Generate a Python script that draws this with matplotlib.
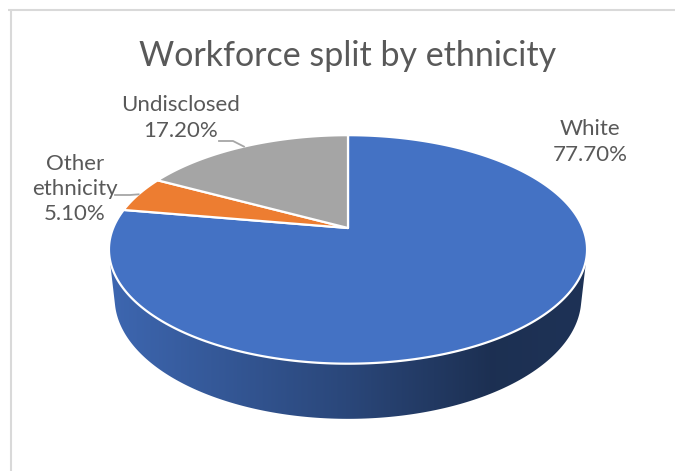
import numpy as np
import matplotlib
matplotlib.use("Agg")
import matplotlib.pyplot as plt
from matplotlib.patches import Polygon
from matplotlib.colors import to_rgb

# ---- data ----
categories = ["White", "Other\nethnicity", "Undisclosed"]
values = [77.70, 5.10, 17.20]
pct_labels = ["77.70%", "5.10%", "17.20%"]
colors = ["#4472C4", "#ED7D31", "#A5A5A5"]

# ---- projection (perspective view of a tilted disc) ----
W, H = 675, 471
cx, cy = 348.0, 228.0
phi = np.radians(28.0)
cph, sph = np.cos(phi), np.sin(phi)
D = 5.33 * cph
f = 1105.0
thick = 0.238


def proj(theta, r=1.0, z=0.0):
    X = r * np.cos(theta)
    Y = r * np.sin(theta)
    depth = D + Y * cph - z * sph
    px = cx + f * X / depth
    py = cy - f * (Y * sph + z * cph) / depth
    return px, py


fig = plt.figure(figsize=(W / 100, H / 100), dpi=100)
ax = fig.add_axes([0, 0, 1, 1])
ax.set_xlim(0, W)
ax.set_ylim(H, 0)
ax.axis("off")

# chart frame (top & left visible)
ax.plot([8, W], [10, 10], color="#d9d9d9", lw=1.5, solid_capstyle="butt")
ax.plot([11, 11], [10, H], color="#d9d9d9", lw=1.5, solid_capstyle="butt")

# slice angles: start at 12 o'clock going clockwise
total = sum(values)
starts, ends = [], []
a = np.pi / 2
for v in values:
    sweep = 2 * np.pi * v / total
    starts.append(a - sweep)
    ends.append(a)
    a -= sweep

# ---- side wall (front, visible part) ----
sil = np.arcsin(-1.0 / (D * cph))  # silhouette angle (negative)
vis_lo = np.pi - sil
vis_hi = 2 * np.pi + sil

def shade(col, t):
    base = np.array(to_rgb(col))
    fac = np.interp(t, [0.0, 0.5, 0.8, 1.0], [0.90, 0.62, 0.42, 0.44])
    return base * fac

for s0, e0, col in zip(starts, ends, colors):
    for k in (-1, 0, 1):
        s = s0 + 2 * np.pi * k
        e = e0 + 2 * np.pi * k
        lo, hi = max(s, vis_lo), min(e, vis_hi)
        if hi <= lo:
            continue
        th = np.linspace(lo, hi, 200)
        tx, ty = proj(th)
        bx, by = proj(th[::-1], z=-thick)
        pts = np.column_stack([np.r_[tx, bx], np.r_[ty, by]])
        poly = Polygon(pts, closed=True, facecolor="none", edgecolor="none")
        ax.add_patch(poly)
        x0, x1 = pts[:, 0].min(), pts[:, 0].max()
        y0, y1 = pts[:, 1].min(), pts[:, 1].max()
        left_all, right_all = proj(np.pi + 0.2)[0], proj(-0.2)[0]
        xs = np.linspace(x0, x1, 300)
        tt = (xs - left_all) / (right_all - left_all)
        img = np.array([shade(col, t) for t in tt])[None, :, :]
        im = ax.imshow(img, extent=[x0, x1, y1, y0], aspect="auto",
                       interpolation="bilinear", zorder=2)
        im.set_clip_path(poly)

# ---- top face ----
for s, e, col in zip(starts, ends, colors):
    th = np.linspace(s, e, 300)
    px, py = proj(th)
    pts = np.column_stack([np.r_[cx, px], np.r_[cy, py]])
    ax.add_patch(Polygon(pts, closed=True, facecolor=col, edgecolor="white",
                         lw=1.6, joinstyle="round", zorder=3))

# ---- title ----
font = "Lato"
txt_col = "#595959"
ax.text(348, 56, "Workforce split by ethnicity", ha="center", va="center",
        fontsize=24.5, color=txt_col, family=font)

# ---- data labels ----
label_pos = [(590, 142), (75, 189), (181, 118)]
for i, (cat, pct) in enumerate(zip(categories, pct_labels)):
    lx, ly = label_pos[i]
    ax.text(lx, ly, f"{cat}\n{pct}", ha="center", va="center",
            fontsize=16, color=txt_col, family=font, linespacing=1.32)

# leader lines for the small slices
leaders = {1: (115, 195, 130), 2: (219, 141, 233)}
for i, (x_start, y_line, x_elbow) in leaders.items():
    mid = (starts[i] + ends[i]) / 2
    ex, ey = proj(mid)
    ax.plot([x_start, x_elbow, ex], [y_line, y_line, ey], color="#a6a6a6",
            lw=1.3, zorder=4)

fig.savefig("out.png", dpi=100)
